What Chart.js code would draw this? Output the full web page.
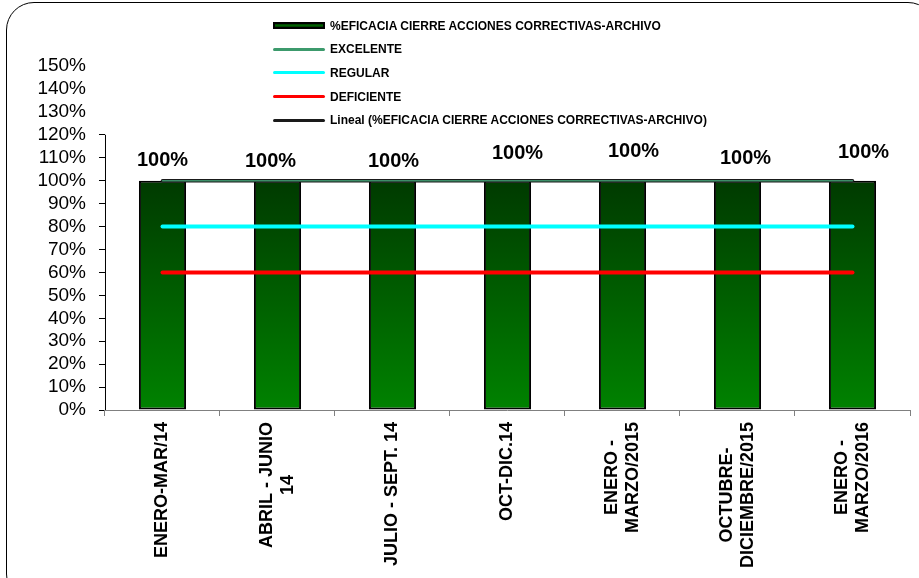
<!DOCTYPE html>
<html>
<head>
<meta charset="utf-8">
<script src="https://cdn.jsdelivr.net/npm/chart.js@4"></script>
<style>
	html, body { margin: 0; padding: 0; background: #fff; overflow: hidden; }
	#wrap { position: relative; width: 919px; height: 578px; overflow: hidden; }
	#frame {
		position: absolute; left: 6px; top: 2px; width: 930px; height: 600px;
		border: 1.5px solid #000; border-radius: 28px; box-sizing: border-box;
	}
	#lineChart { position: absolute; left: 0; top: 0; }
	#legend {
		position: absolute; left: 273px; top: 14px;
		font: bold 12px "Liberation Sans", Arial, sans-serif; color: #000;
	}
	.item { display: flex; align-items: center; height: 23.6px; white-space: nowrap; }
	.swatch { width: 52px; margin-right: 5px; box-sizing: border-box; }
</style>
</head>
<body>
<div id="wrap">
	<div id="frame"></div>
	<canvas id="lineChart" width="919" height="578"></canvas>
	<div id="legend"></div>
</div>
<script>
const FONT = '"Liberation Sans", Arial, sans-serif';

const periodos = [
	"ENERO-MAR/14",
	["ABRIL - JUNIO", "14"],
	"JULIO - SEPT. 14",
	"OCT-DIC.14",
	["ENERO -", "MARZO/2015"],
	["OCTUBRE-", "DICIEMBRE/2015"],
	["ENERO -", "MARZO/2016"],
];
const eficacia = [100, 100, 100, 100, 100, 100, 100];
const excelente = [100, 100, 100, 100, 100, 100, 100];
const regular = [80, 80, 80, 80, 80, 80, 80];
const deficiente = [60, 60, 60, 60, 60, 60, 60];
const yMax = 150;
const yStep = 10;
const ejeHasta = 120;

// least squares trend over the bars
function tendencia(vals) {
	const n = vals.length;
	let sx = 0, sy = 0, sxy = 0, sxx = 0;
	vals.forEach((v, i) => { sx += i; sy += v; sxy += i * v; sxx += i * i; });
	const m = (n * sxy - sx * sy) / (n * sxx - sx * sx);
	const b = (sy - m * sx) / n;
	return vals.map((v, i) => b + m * i);
}

// small hand placement of the value labels
const labelNudge = {
	dx: [0, -7, 1, 10, 11, 8, 11],
	dy: [0, 1, 1, -7, -9, -2, -8],
};

const barFill = (ctx) => {
	const chart = ctx.chart;
	if (!chart.chartArea) return "#005000";
	const y = chart.scales.y;
	const g = chart.ctx.createLinearGradient(0, y.getPixelForValue(100), 0, y.getPixelForValue(0));
	g.addColorStop(0, "#003a00");
	g.addColorStop(1, "#008200");
	return g;
};

const valueLabels = {
	id: "valueLabels",
	afterDatasetsDraw(chart) {
		const meta = chart.getDatasetMeta(0);
		const c = chart.ctx;
		c.save();
		c.font = "bold 20px " + FONT;
		c.fillStyle = "#000";
		c.textAlign = "center";
		c.textBaseline = "alphabetic";
		meta.data.forEach((bar, i) => {
			const v = chart.data.datasets[0].data[i];
			c.fillText(v + "%", bar.x + labelNudge.dx[i], bar.y - 15 + labelNudge.dy[i]);
		});
		c.restore();
	},
};

const axisLabels = {
	id: "axisLabels",
	afterDraw(chart) {
		const c = chart.ctx;
		const x = chart.scales.x;
		const y = chart.scales.y;
		c.save();
		// y axis line stops at the last gridded value
		c.strokeStyle = "#000";
		c.lineWidth = 1;
		c.beginPath();
		c.moveTo(x.left + 0.5, y.getPixelForValue(0));
		c.lineTo(x.left + 0.5, y.getPixelForValue(ejeHasta));
		c.stroke();

		c.font = "bold 18px " + FONT;
		c.fillStyle = "#000";
		c.textAlign = "center";
		c.textBaseline = "middle";
		const top = y.getPixelForValue(0) + 12;
		const lh = 21;
		periodos.forEach((lab, i) => {
			const lines = Array.isArray(lab) ? lab : [lab];
			const w = Math.max(...lines.map((l) => c.measureText(l).width));
			c.save();
			c.translate(x.getPixelForValue(i), top);
			c.rotate(-Math.PI / 2);
			lines.forEach((l, k) => {
				c.fillText(l, -w / 2, (k - (lines.length - 1) / 2) * lh);
			});
			c.restore();
		});
		c.restore();
	},
};

const ctx = document.getElementById("lineChart");
const chart = new Chart(ctx, {
	type: "bar",
	data: {
		labels: periodos,
		datasets: [
			{
				label: "%EFICACIA CIERRE ACCIONES CORRECTIVAS-ARCHIVO",
				data: eficacia,
				backgroundColor: barFill,
				borderColor: "#000",
				borderWidth: 2,
				borderSkipped: false,
				barPercentage: 0.41,
				categoryPercentage: 1,
				order: 1,
			},
			{
				type: "line",
				label: "EXCELENTE",
				data: excelente,
				borderColor: "#3c8f68",
				borderWidth: 1.5,
				pointRadius: 0,
				borderCapStyle: "round",
				order: 0,
			},
			{
				type: "line",
				label: "REGULAR",
				data: regular,
				borderColor: "#00ffff",
				borderWidth: 4,
				pointRadius: 0,
				borderCapStyle: "round",
				order: 0,
			},
			{
				type: "line",
				label: "DEFICIENTE",
				data: deficiente,
				borderColor: "#ff0000",
				borderWidth: 4,
				pointRadius: 0,
				borderCapStyle: "round",
				order: 0,
			},
			{
				type: "line",
				label: "Lineal (%EFICACIA CIERRE ACCIONES CORRECTIVAS-ARCHIVO)",
				data: tendencia(eficacia),
				borderColor: "#1a1a1a",
				borderWidth: 3.5,
				pointRadius: 0,
				borderCapStyle: "round",
				order: 0,
			},
		],
	},
	options: {
		responsive: false,
		animation: false,
		devicePixelRatio: 1,
		layout: { padding: { left: 24.4, top: 66, right: 9, bottom: 162 } },
		plugins: {
			legend: { display: false },
			tooltip: { enabled: false },
		},
		scales: {
			x: {
				grid: {
					offset: true,
					drawOnChartArea: false,
					drawTicks: true,
					tickLength: 6,
					color: "#808080",
				},
				border: { display: true, color: "#808080", width: 1 },
				ticks: { display: false },
			},
			y: {
				min: 0,
				max: yMax,
				grid: {
					drawOnChartArea: false,
					drawTicks: true,
					tickLength: 6,
					color: (c) => (c.tick && c.tick.value > ejeHasta ? "rgba(0,0,0,0)" : "#000"),
				},
				border: { display: false },
				ticks: {
					stepSize: yStep,
					autoSkip: false,
					padding: 13,
					color: "#000",
					font: { family: FONT, size: 19 },
					callback: (v) => v + "%",
				},
			},
		},
	},
	plugins: [valueLabels, axisLabels],
});

// legend column
const legend = document.getElementById("legend");
chart.data.datasets.forEach((ds, i) => {
	const row = document.createElement("div");
	row.className = "item";
	const sw = document.createElement("div");
	sw.className = "swatch";
	if (i === 0) {
		sw.style.height = "7px";
		sw.style.border = "2px solid #000";
		sw.style.background = "linear-gradient(#003a00, #006000, #003a00)";
	} else {
		sw.style.height = "3px";
		sw.style.borderRadius = "2px";
		sw.style.background = i === 1 ? "#3c9a6c" : ds.borderColor;
	}
	const tx = document.createElement("span");
	tx.textContent = ds.label;
	row.appendChild(sw);
	row.appendChild(tx);
	legend.appendChild(row);
});
</script>
</body>
</html>
